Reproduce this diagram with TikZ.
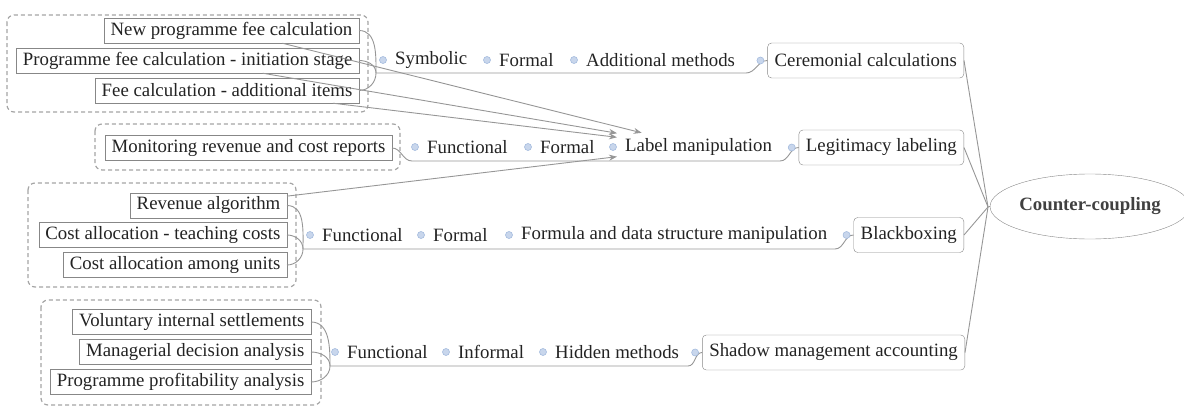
\documentclass[tikz,border=0pt]{standalone}
\usepackage{fontspec}
\setmainfont{Liberation Serif}
\definecolor{linkgray}{RGB}{150,150,150}
\definecolor{boxgray}{RGB}{135,135,135}
\definecolor{framegray}{RGB}{165,165,165}
\definecolor{knobblue}{RGB}{200,214,236}
\definecolor{knobedge}{RGB}{165,188,222}
\definecolor{inkgray}{RGB}{35,35,35}
\usetikzlibrary{shapes.geometric, arrows.meta, calc}

\begin{document}
\begin{tikzpicture}[x=1pt, y=-1pt,
  every node/.style={font=\fontsize{18.8}{22}\selectfont, text=inkgray},
  src/.style={draw=boxgray, fill=white, anchor=east, minimum height=25pt, inner xsep=6.5pt, inner ysep=0pt},
  topic/.style={draw=boxgray, fill=white, rounded corners=4pt, anchor=east, minimum height=35pt, inner xsep=7pt, inner ysep=0pt},
  tag/.style={anchor=west, minimum height=28pt, inner xsep=8pt, inner ysep=0pt},
  group/.style={draw=framegray, dash pattern=on 4pt off 3pt, line width=1.2pt, rounded corners=7pt},
  link/.style={draw=linkgray, line width=0.9pt},
  rel/.style={draw=linkgray, line width=0.9pt, -{Stealth[length=8pt, width=6pt]}},
  knob/.style={fill=knobblue, draw=knobedge, line width=0.6pt}]

  \useasboundingbox (0,0) rectangle (1184,407);

  % Ceremonial calculations
  \draw[group] (7,15) rectangle (368,112);
  \node[src] (newfee) at (359,30.5) {New programme fee calculation};
  \node[src] (initfee) at (359,60.5) {Programme fee calculation - initiation stage};
  \node[src] (addfee) at (359,90.5) {Fee calculation - additional items};
  \coordinate (j1) at (376,73);
  \node[tag] (sym1) at (387,60) {Symbolic};
  \node[tag] (frm1) at (491,60) {Formal};
  \node[tag] (addm) at (578,60) {Additional methods};
  \coordinate (b1) at (746,73);
  \node[topic] (cer) at (964,60.5) {Ceremonial calculations};
  \draw[link] (newfee.east) to[out=0, in=90] (j1);
  \draw[link] (initfee.east) to[out=0, in=90] (j1);
  \draw[link] (addfee.east) to[out=0, in=-90] (j1);
  \draw[link] (j1) -- (b1) to[out=0, in=180] (cer.west);

  % Legitimacy labeling
  \draw[group] (95,124) rectangle (400,170);
  \node[src] (monrep) at (392,148) {Monitoring revenue and cost reports};
  \coordinate (j2) at (412,161);
  \node[tag] (fun2) at (419,147) {Functional};
  \node[tag] (frm2) at (532,147) {Formal};
  \node[tag] (labman) at (617,147) {Label manipulation};
  \coordinate (b2) at (780,161);
  \node[topic] (leg) at (964,147.5) {Legitimacy labeling};
  \draw[link] (monrep.east) to[out=0, in=180] (j2) -- (b2) to[out=0, in=180] (leg.west);

  % Blackboxing
  \draw[group] (28,183) rectangle (296,287);
  \node[src] (revalg) at (287,205.5) {Revenue algorithm};
  \node[src] (costteach) at (287,235) {Cost allocation - teaching costs};
  \node[src] (costunit) at (287,265) {Cost allocation among units};
  \coordinate (j3) at (303,249);
  \node[tag] (fun3) at (314,235) {Functional};
  \node[tag] (frm3) at (425,235) {Formal};
  \node[tag] (fds) at (513,235) {Formula and data structure manipulation};
  \coordinate (b3) at (835,249);
  \node[topic] (blk) at (964,235) {Blackboxing};
  \draw[link] (revalg.east) to[out=0, in=90] (j3);
  \draw[link] (costteach.east) to[out=0, in=90] (j3);
  \draw[link] (costunit.east) to[out=0, in=-90] (j3);
  \draw[link] (j3) -- (b3) to[out=0, in=180] (blk.west);

  % Shadow management accounting
  \draw[group] (41,300) rectangle (321,405);
  \node[src] (volset) at (311,322) {Voluntary internal settlements};
  \node[src] (mandec) at (311,352) {Managerial decision analysis};
  \node[src] (progprof) at (311,382) {Programme profitability analysis};
  \coordinate (j4) at (330,366);
  \node[tag] (fun4) at (339,352) {Functional};
  \node[tag] (inf4) at (450,352) {Informal};
  \node[tag] (hid4) at (547,352) {Hidden methods};
  \coordinate (b4) at (688,366);
  \node[topic] (shadow) at (965,352.5) {Shadow management accounting};
  \draw[link] (volset.east) to[out=0, in=90] (j4);
  \draw[link] (mandec.east) to[out=0, in=90] (j4);
  \draw[link] (progprof.east) to[out=0, in=-90] (j4);
  \draw[link] (j4) -- (b4) to[out=0, in=180] (shadow.west);

  % Counter-coupling
  \node[ellipse, draw=boxgray, minimum width=186pt, minimum height=65pt, inner sep=0pt,
    font=\fontsize{18.8}{22}\selectfont\bfseries, text=black!75] (cc) at (1090,206.5) {Counter-coupling};
  \coordinate (hub) at (988,207);
  \draw[link] (hub) -- (cc.west);
  \foreach \t in {cer,leg,blk,shadow}
    \draw[link] (\t.east) -- (hub);

  % relations
  \draw[rel] (newfee) -- (labman);
  \draw[rel] (initfee) -- (labman);
  \draw[rel] (addfee) -- (labman);
  \draw[rel] (revalg) -- (labman);

  % knobs
  \foreach \n in {sym1,frm1,addm,fun2,frm2,labman,fun3,frm3,fds,fun4,inf4,hid4}
    \draw[knob] ($(\n.west)+(-4,0)$) circle (3.5pt);
  \foreach \n in {cer,leg,blk,shadow}
    \draw[knob] ($(\n.west)+(-7,0)$) circle (3.5pt);
\end{tikzpicture}
\end{document}
